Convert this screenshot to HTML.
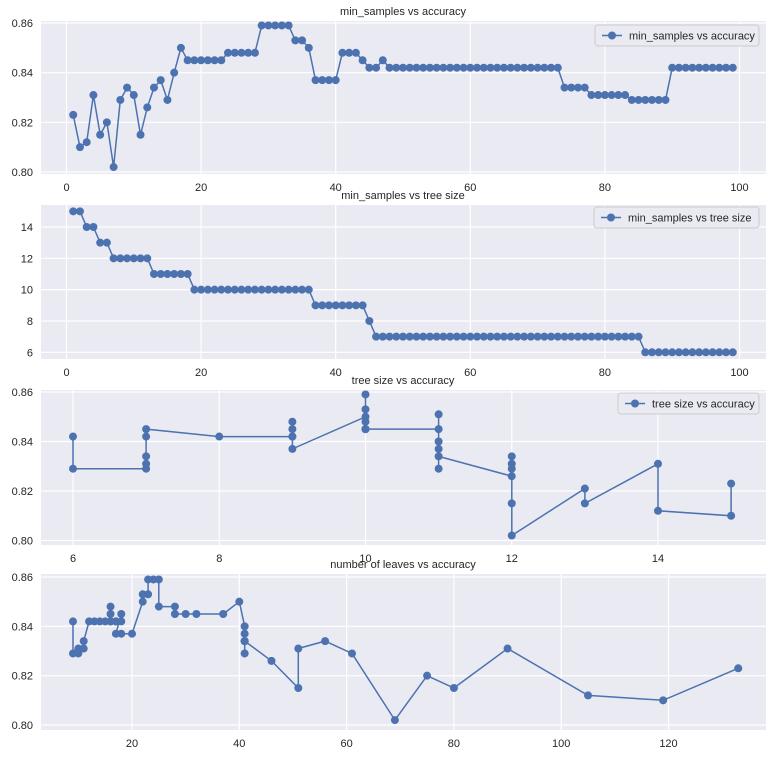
<!DOCTYPE html>
<html><head><meta charset="utf-8">
<style>
body{margin:0;background:#fff;width:772px;height:754px;overflow:hidden;font-family:"Liberation Sans",Arial,sans-serif;}
svg text{font-family:"Liberation Sans",Arial,sans-serif;fill:#262626;}
</style></head>
<body>
<svg id="fig" width="772" height="754" viewBox="0 0 772 754" xmlns="http://www.w3.org/2000/svg"></svg>
<script>
// Panel 1 data: min_samples vs accuracy
const minSamples = [];
for (let i = 1; i <= 99; i++) minSamples.push(i);
const accuracy = [0.823,0.810,0.812,0.831,0.815,0.820,0.802,0.829,0.834,0.831,0.815,0.826,0.834,0.837,0.829,0.840,0.850,
0.845,0.845,0.845,0.845,0.845,0.845,0.848,0.848,0.848,0.848,0.848,0.859,0.859,0.859,0.859,0.859,0.853,0.853,0.850,
0.837,0.837,0.837,0.837,0.848,0.848,0.848,0.845,0.842,0.842,0.845,
0.842,0.842,0.842,0.842,0.842,0.842,0.842,0.842,0.842,0.842,0.842,0.842,0.842,0.842,0.842,0.842,0.842,0.842,0.842,0.842,0.842,0.842,0.842,0.842,0.842,0.842,
0.834,0.834,0.834,0.834,0.831,0.831,0.831,0.831,0.831,0.831,0.829,0.829,0.829,0.829,0.829,0.829,
0.842,0.842,0.842,0.842,0.842,0.842,0.842,0.842,0.842,0.842];
// Panel 2 data: tree size
const treeSize = [15,15,14,14,13,13,12,12,12,12,12,12,11,11,11,11,11,11,
10,10,10,10,10,10,10,10,10,10,10,10,10,10,10,10,10,10,9,9,9,9,9,9,9,9,8,
7,7,7,7,7,7,7,7,7,7,7,7,7,7,7,7,7,7,7,7,7,7,7,7,7,7,7,7,7,7,7,7,7,7,7,7,7,7,7,7,
6,6,6,6,6,6,6,6,6,6,6,6,6,6];
// Panel 3 data
const p3Size = [6,6,7,7,7,7,7,8,9,9,9,9,9,10,10,10,10,10,10,10,11,11,11,11,11,11,12,12,12,12,12,12,13,13,14,14,15,15];
const p3Acc  = [0.842,0.829,0.829,0.831,0.834,0.842,0.845,0.842,0.842,0.848,0.845,0.842,0.837,0.850,0.859,0.853,0.848,0.845,0.845,0.845,
0.845,0.851,0.840,0.837,0.829,0.834,0.826,0.834,0.831,0.829,0.815,0.802,0.821,0.815,0.831,0.812,0.810,0.823];
// Panel 4 data
const leaves = [9,9,10,10,11,11,12,13,14,15,16,16,16,16,17,17,18,18,17,18,20,22,22,23,23,24,25,25,28,28,30,32,37,40,41,41,41,41,41,41,46,51,51,56,61,69,75,80,90,105,119,133];
const leafAcc = [0.842,0.829,0.829,0.831,0.831,0.834,0.842,0.842,0.842,0.842,0.842,0.848,0.845,0.842,0.842,0.842,0.842,0.845,0.837,0.837,0.837,0.850,0.853,0.853,0.859,0.859,0.859,0.848,0.848,0.845,0.845,0.845,0.845,0.850,0.840,0.837,0.834,0.829,0.834,0.834,0.826,0.815,0.831,0.834,0.829,0.802,0.820,0.815,0.831,0.812,0.810,0.823];

const xTicks12 = [0,20,40,60,80,100];
const yTicksAcc = [0.80,0.82,0.84,0.86];
const yTicksSize = [6,8,10,12,14];
const xTicks3 = [6,8,10,12,14];
const xTicks4 = [20,40,60,80,100,120];

const NS = "http://www.w3.org/2000/svg";
const svg = document.getElementById('fig');
function el(tag, attrs, parent) {
  const e = document.createElementNS(NS, tag);
  for (const k in attrs) e.setAttribute(k, attrs[k]);
  (parent || svg).appendChild(e);
  return e;
}
function lin(d0, d1, r0, r1) { return v => r0 + (v - d0) * (r1 - r0) / (d1 - d0); }

function panel(cfg) {
  const g = el('g', {});
  
  
  const bg = el('rect', {x:41, y:cfg.top, width:725, height:cfg.bottom-cfg.top, fill:'#eaeaf2'}, g);
  
  
  const t = el('text', {x:403, y:cfg.top-6, 'text-anchor':'middle', 'font-size':11}, g);
  t.textContent = cfg.title;
  
  
  cfg.xt.forEach(v => {
    const px = cfg.sx(v);
    el('line', {x1:px, x2:px, y1:cfg.top, y2:cfg.bottom, stroke:'#fff', 'stroke-width':1.2}, g);
    const tx = el('text', {x:px, y:cfg.bottom+17, 'text-anchor':'middle', 'font-size':11}, g);
    tx.textContent = v;
    
    
  });
  cfg.yt.forEach(v => {
    const py = cfg.sy(v);
    el('line', {x1:41, x2:766, y1:py, y2:py, stroke:'#fff', 'stroke-width':1.2}, g);
    const ty = el('text', {x:33, y:py+4, 'text-anchor':'end', 'font-size':11}, g);
    ty.textContent = cfg.yfmt(v);
    
    
  });
  const pts = cfg.xs.map((x, i) => cfg.sx(x).toFixed(1) + ',' + cfg.sy(cfg.ys[i]).toFixed(1)).join(' ');
  const line = el('polyline', {points:pts, fill:'none', stroke:'#4c72b0', 'stroke-width':1.5}, g);
  
  
  cfg.xs.forEach((x, i) => {
    const c = el('circle', {cx:cfg.sx(x), cy:cfg.sy(cfg.ys[i]), r:4, fill:'#4c72b0'}, g);
    
    
  });
  if (cfg.legend) {
    const L = cfg.legend;
    const lg = el('g', {}, g);
    
    
    el('rect', {x:L.x, y:L.y, width:L.w, height:21, rx:3, fill:'#eaeaf2', stroke:'#cccccc', 'stroke-width':1}, lg);
    el('line', {x1:L.x+7, x2:L.x+27, y1:L.y+10.5, y2:L.y+10.5, stroke:'#4c72b0', 'stroke-width':1.5}, lg);
    el('circle', {cx:L.x+17, cy:L.y+10.5, r:4, fill:'#4c72b0'}, lg);
    const lt = el('text', {x:L.x+34, y:L.y+14.5, 'font-size':11}, lg);
    lt.textContent = cfg.title;
    
    
  }
}

const f2 = v => v.toFixed(2);
panel({name:'panel-min-samples-accuracy', title:'min_samples vs accuracy', top:21, bottom:174,
  sx:lin(0,100,66.5,739.5), sy:lin(0.80,0.86,172,23), xt:xTicks12, yt:yTicksAcc, yfmt:f2,
  xs:minSamples, ys:accuracy, legend:{x:595, y:25, w:164}});
panel({name:'panel-min-samples-tree-size', title:'min_samples vs tree size', top:205, bottom:359,
  sx:lin(0,100,66.5,739.5), sy:lin(6,14,352.3,227), xt:xTicks12, yt:yTicksSize, yfmt:v=>v,
  xs:minSamples, ys:treeSize, legend:{x:594, y:207, w:165}});
panel({name:'panel-tree-size-accuracy', title:'tree size vs accuracy', top:390, bottom:545,
  sx:lin(6,14,73,658), sy:lin(0.80,0.86,540.5,392), xt:xTicks3, yt:yTicksAcc, yfmt:f2,
  xs:p3Size, ys:p3Acc, legend:{x:618, y:393, w:141}});
panel({name:'panel-leaves-accuracy', title:'number of leaves vs accuracy', top:574, bottom:730,
  sx:lin(20,40,132,239.3), sy:lin(0.80,0.86,725,577), xt:xTicks4, yt:yTicksAcc, yfmt:f2,
  xs:leaves, ys:leafAcc});
</script>
</body></html>
